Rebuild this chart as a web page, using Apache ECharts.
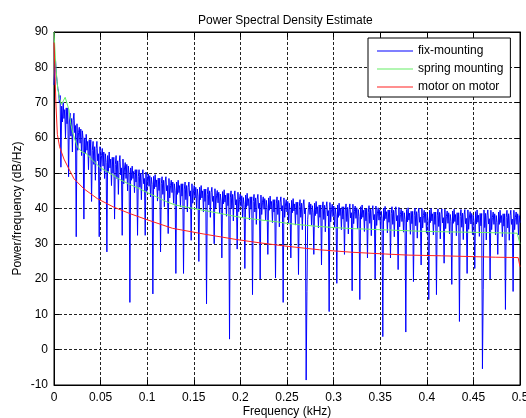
<!DOCTYPE html>
<html>
<head>
<meta charset="utf-8">
<script src="https://cdn.jsdelivr.net/npm/echarts@6/dist/echarts.min.js"></script>
<style>
html,body{margin:0;padding:0;background:#fff;}
#c{width:526px;height:418px;}
</style>
</head>
<body>
<div id="c"></div>
<script>
// ---- data ----
const seriesNames = ['fix-mounting', 'spring mounting', 'motor on motor'];
const xTicks = [0, 0.05, 0.1, 0.15, 0.2, 0.25, 0.3, 0.35, 0.4, 0.45, 0.5];
const yTicks = [-10, 0, 10, 20, 30, 40, 50, 60, 70, 80, 90];

// fix-mounting: uniformly sampled over 0..0.5 kHz (609 samples)
const fixVals = [
  75, 80, 82, 78, 76, 74, 73, 70, 72,
  51.7, 69, 64.5, 70, 65.5, 68, 60, 68.5, 64, 68.5,
  49, 64.5, 67, 60.5, 65.5, 56, 65, 67, 61.5, 63.5,
  32, 64, 56.5, 61.5, 63, 58.5, 62.5, 55, 62, 59.5,
  37, 60, 55.5, 61, 56.5, 59, 51, 59.5, 55, 59.5,
  42, 56.5, 59, 52.5, 57.5, 48, 57, 59, 53.5, 55.5,
  32, 57.5, 50.5, 55, 57, 52, 56, 48.5, 55.5, 53,
  27.7, 55, 50.5, 56, 51.5, 54, 46.5, 54.5, 50, 54.5,
  37, 52.5, 55, 48.5, 53.5, 44, 53, 55, 49.5, 51.5,
  32.4, 54, 47, 51.5, 53, 48.5, 52.5, 45, 52, 49.5,
  13.4, 51.5, 48, 52, 48.5, 50.5, 44.5, 51, 47.5, 51,
  32.4, 49, 51, 46, 50, 42.5, 49.5, 51, 47, 48.5,
  32.4, 50.3, 44.8, 48.3, 49.8, 46.3, 49.3, 43.3, 48.8, 46.8,
  15.8, 49.1, 45.6, 49.6, 46.1, 48.1, 42.1, 48.6, 45.1, 48.6,
  27.7, 47, 49, 44, 48, 40.5, 47.5, 49, 45, 46.5,
  32.9, 48.5, 43, 46.5, 48, 44.5, 47.5, 41.5, 47, 45,
  21.6, 47.5, 44, 48, 44.5, 46.5, 40.5, 47, 43.5, 47,
  21.6, 45.5, 47.5, 42.5, 46.5, 39, 46, 47.5, 43.5, 45,
  31, 47, 41.5, 45, 46.5, 43, 46, 40, 45.5, 43.5,
  25, 46, 42.5, 46.5, 43, 45, 39, 45.5, 42, 45.5,
  13, 44, 46, 41, 45, 37.5, 44.5, 46, 42, 43.5,
  30, 45.6, 40.1, 43.6, 45.1, 41.6, 44.6, 38.6, 44.1, 42.1,
  26, 44.8, 41.3, 45.3, 41.8, 43.8, 37.8, 44.3, 40.8, 44.3,
  3, 43, 45, 40, 44, 36.5, 43.5, 45, 41, 42.5,
  28.5, 44.6, 39.1, 42.6, 44.1, 40.6, 43.6, 37.6, 43.1, 41.1,
  23, 43.8, 40.3, 44.3, 40.8, 42.8, 36.8, 43.3, 39.8, 43.3,
  15.6, 42, 44, 39, 43, 35.5, 42.5, 44, 40, 41.5,
  20, 43.8, 38.3, 41.8, 43.3, 39.8, 42.8, 36.8, 42.3, 40.3,
  27, 43, 39.5, 43.5, 40, 42, 36, 42.5, 39, 42.5,
  20.3, 41.3, 43.3, 38.3, 42.3, 34.8, 41.8, 43.3, 39.3, 40.8,
  13.4, 43, 37.5, 41, 42.5, 39, 42, 36, 41.5, 39.5,
  26, 42.3, 38.8, 42.8, 39.3, 41.3, 35.3, 41.8, 38.3, 41.8,
  21.3, 40.5, 42.5, 37.5, 41.5, 34, 41, 42.5, 38.5, 40,
  -8.6, 16.5, 36.8, 40.3, 41.8, 38.3, 41.3, 35.3, 40.8, 38.8,
  27, 41.5, 38, 42, 38.5, 40.5, 34.5, 41, 37.5, 41,
  24, 39.9, 41.9, 36.9, 40.9, 33.4, 40.4, 41.9, 37.9, 39.4,
  10.8, 41.7, 36.2, 39.7, 41.2, 37.7, 40.7, 34.7, 40.2, 38.2,
  18.8, 41, 37.5, 41.5, 38, 40, 34, 40.5, 37, 40.5,
  27, 39.3, 41.3, 36.3, 40.3, 32.8, 39.8, 41.3, 37.3, 38.8,
  16.7, 41.2, 35.7, 39.2, 40.7, 37.2, 40.2, 34.2, 39.7, 37.7,
  14.2, 40.5, 37, 41, 37.5, 39.5, 33.5, 40, 36.5, 40,
  26, 38.8, 40.8, 35.8, 39.8, 32.3, 39.3, 40.8, 36.8, 38.3,
  20, 40.7, 35.2, 38.7, 40.2, 36.7, 39.7, 33.7, 39.2, 37.2,
  3.7, 40.1, 36.6, 40.6, 37.1, 39.1, 33.1, 39.6, 36.1, 39.6,
  26, 38.5, 40.5, 35.5, 39.5, 32, 39, 40.5, 36.5, 38,
  22.7, 40.3, 34.8, 38.3, 39.8, 36.3, 39.3, 33.3, 38.8, 36.8,
  5, 39.7, 36.2, 40.2, 36.7, 38.7, 32.7, 39.2, 35.7, 39.2,
  19.3, 38.1, 40.1, 35.1, 39.1, 31.6, 38.6, 40.1, 36.1, 37.6,
  24, 40, 34.5, 38, 39.5, 36, 39, 33, 38.5, 36.5,
  14.2, 39.5, 36, 40, 36.5, 38.5, 32.5, 39, 35.5, 39,
  15.6, 37.9, 39.9, 34.9, 38.9, 31.4, 38.4, 39.9, 35.9, 37.4,
  24.5, 39.8, 34.3, 37.8, 39.3, 35.8, 38.8, 32.8, 38.3, 36.3,
  18.5, 39.3, 35.8, 39.8, 36.3, 38.3, 32.3, 38.8, 35.3, 38.8,
  8, 37.7, 39.7, 34.7, 38.7, 31.2, 38.2, 39.7, 35.7, 37.2,
  21.6, 39.6, 34.1, 37.6, 39.1, 35.6, 38.6, 32.6, 38.1, 36.1,
  23, 39.1, 35.6, 39.6, 36.1, 38.1, 32.1, 38.6, 35.1, 38.6,
  -5.4, 17, 39.6, 34.6, 38.6, 31.1, 38.1, 39.6, 35.6, 37.1,
  20, 39.5, 34, 37.5, 39, 35.5, 38.5, 32.5, 38, 36,
  27, 39, 35.5, 39.5, 36, 38, 32, 38.5, 35, 38.5,
  11.4, 37.5, 39.5, 34.5, 38.5, 31, 38, 39.5, 35.5, 37,
  16.5, 39.5, 34, 37.5, 39, 35.5, 38.5, 32.5, 38, 36
];

// spring mounting
const springF = [0, 0.002, 0.004, 0.006, 0.008, 0.01, 0.012, 0.014, 0.016, 0.018, 0.02, 0.025, 0.03, 0.035, 0.04, 0.05, 0.06, 0.07, 0.08, 0.09, 0.1, 0.11, 0.12, 0.13, 0.14, 0.15, 0.16, 0.17, 0.18, 0.19, 0.2, 0.22, 0.24, 0.25, 0.26, 0.28, 0.3, 0.32, 0.34, 0.36, 0.38, 0.4, 0.42, 0.44, 0.46, 0.48, 0.497, 0.5];
const springV = [90, 80, 74, 71, 69.5, 70.5, 71.5, 72, 68, 64, 61.5, 57.5, 56, 55.5, 54, 51.5, 50, 48.3, 47, 45.8, 44.5, 43.3, 42, 41, 40.5, 40, 39.5, 39, 38.5, 38, 37.5, 36.8, 36.2, 35.8, 35.5, 35, 34.6, 34.3, 34.1, 33.9, 33.7, 33.5, 33.4, 33.3, 33.2, 33.1, 33, 30];

// motor on motor
const motorF = [0, 0.001, 0.002, 0.0036, 0.006, 0.008, 0.0107, 0.016, 0.0215, 0.032, 0.0465, 0.064, 0.082, 0.1, 0.127, 0.16, 0.196, 0.22, 0.25, 0.285, 0.32, 0.356, 0.38, 0.416, 0.4735, 0.498, 0.5];
const motorV = [87, 79, 70, 61, 57.5, 56, 54, 51.2, 48.4, 45.6, 42.8, 40.4, 38.5, 36.8, 34.4, 32.8, 31.2, 30.3, 29.3, 28.3, 27.6, 27.1, 26.8, 26.6, 26.2, 26.1, 23.5];

// ---- build chart ----
const fixStep = 0.5 / (fixVals.length - 1);
const fixData = fixVals.map((v, i) => [i * fixStep, v]);
const springData = springF.map((f, i) => [f, springV[i]]);
const motorData = motorF.map((f, i) => [f, motorV[i]]);

const FONT = '"Liberation Sans", Arial, sans-serif';
const xMin = xTicks[0], xMax = xTicks[xTicks.length - 1], xInt = xTicks[1] - xTicks[0];
const yMin = yTicks[0], yMax = yTicks[yTicks.length - 1], yInt = yTicks[1] - yTicks[0];

const gridLine = { show: true, lineStyle: { color: '#222', type: [3, 2], width: 1 } };
const tick = { show: true, inside: true, length: 5, lineStyle: { color: '#000' } };
const axLine = { show: true, onZero: false, lineStyle: { color: '#000', width: 1 } };
const lab = { color: '#000', fontSize: 12, fontFamily: FONT };

const chart = echarts.init(document.getElementById('c'), null, { renderer: 'canvas' });
chart.setOption({
  animation: false,
  backgroundColor: '#fff',
  title: {
    text: 'Power Spectral Density Estimate',
    left: 193, top: 10,
    textStyle: { color: '#000', fontSize: 12, fontWeight: 'normal', fontFamily: FONT }
  },
  grid: {
    left: 54, right: 6, top: 32, bottom: 33,
    outerBoundsMode: 'none', containLabel: false,
    show: true, borderColor: '#000', borderWidth: 1, backgroundColor: '#fff'
  },
  legend: {
    data: seriesNames,
    orient: 'vertical',
    left: 368, top: 38,
    icon: 'rect',
    itemWidth: 36, itemHeight: 1, itemGap: 6,
    padding: [7, 7, 4, 9],
    backgroundColor: '#fff',
    borderColor: '#000', borderWidth: 1,
    textStyle: { color: '#000', fontSize: 12, fontFamily: FONT }
  },
  xAxis: [{
    type: 'value', min: xMin, max: xMax, interval: xInt, position: 'bottom',
    name: 'Frequency (kHz)', nameLocation: 'middle', nameGap: 21, nameMoveOverlap: false,
    nameTextStyle: { color: '#000', fontSize: 12, fontFamily: FONT },
    axisLine: axLine, axisTick: tick, splitLine: gridLine,
    axisLabel: Object.assign({ margin: 7 }, lab)
  }, {
    type: 'value', min: xMin, max: xMax, interval: xInt, position: 'top',
    axisLine: axLine, axisTick: tick, splitLine: { show: false }, axisLabel: { show: false }
  }],
  yAxis: [{
    type: 'value', min: yMin, max: yMax, interval: yInt, position: 'left',
    name: 'Power/frequency (dB/Hz)', nameLocation: 'middle', nameGap: 30, nameMoveOverlap: false,
    nameTextStyle: { color: '#000', fontSize: 12, fontFamily: FONT },
    axisLine: axLine, axisTick: tick, splitLine: gridLine,
    axisLabel: Object.assign({ margin: 6 }, lab)
  }, {
    type: 'value', min: yMin, max: yMax, interval: yInt, position: 'right',
    axisLine: axLine, axisTick: tick, splitLine: { show: false }, axisLabel: { show: false }
  }],
  series: [{
    name: seriesNames[0], type: 'line', data: fixData, symbol: 'none', showSymbol: false,
    lineStyle: { color: '#0000ff', width: 1 }, itemStyle: { color: '#0000ff' }, z: 2
  }, {
    name: seriesNames[1], type: 'line', data: springData, symbol: 'none', showSymbol: false,
    lineStyle: { color: '#66ee66', width: 1 }, itemStyle: { color: '#66ee66' }, z: 3
  }, {
    name: seriesNames[2], type: 'line', data: motorData, symbol: 'none', showSymbol: false,
    lineStyle: { color: '#ff2020', width: 1 }, itemStyle: { color: '#ff2020' }, z: 4
  }]
});
</script>
</body>
</html>
